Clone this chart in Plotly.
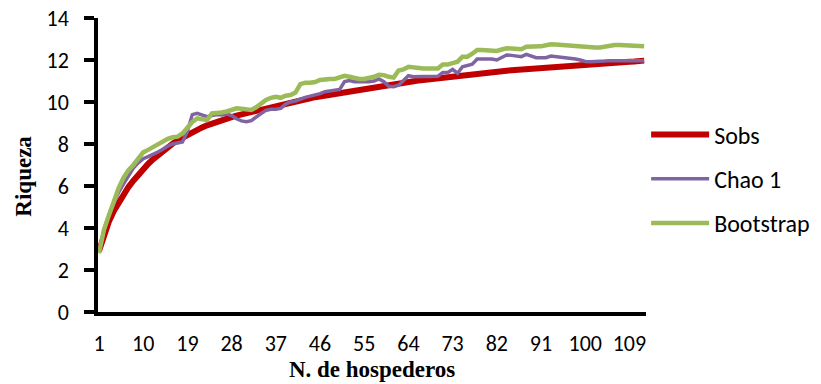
import plotly.graph_objects as go

hospederos = list(range(1, 113))

sobs = [2.9, 3.7, 4.3, 4.8, 5.2, 5.6, 5.95, 6.25, 6.55, 6.8,
        7.05, 7.27, 7.48, 7.67, 7.85, 8.02, 8.17, 8.31, 8.44, 8.56,
        8.68, 8.79, 8.89, 8.98, 9.06, 9.14, 9.21, 9.28, 9.35, 9.41,
        9.47, 9.53, 9.59, 9.65, 9.71, 9.77, 9.83, 9.88, 9.93, 9.98,
        10.03, 10.08, 10.13, 10.18, 10.23, 10.27, 10.32, 10.36, 10.41, 10.45,
        10.49, 10.53, 10.57, 10.61, 10.65, 10.69, 10.73, 10.76, 10.8, 10.83,
        10.87, 10.9, 10.93, 10.96, 10.99, 11.02, 11.05, 11.08, 11.11, 11.14,
        11.17, 11.2, 11.22, 11.25, 11.28, 11.3, 11.33, 11.35, 11.38, 11.4,
        11.42, 11.45, 11.47, 11.49, 11.51, 11.53, 11.55, 11.57, 11.59, 11.61,
        11.63, 11.65, 11.67, 11.68, 11.7, 11.72, 11.74, 11.75, 11.77, 11.78,
        11.8, 11.81, 11.83, 11.84, 11.86, 11.87, 11.89, 11.9, 11.92, 11.93,
        11.95, 11.97]

chao1 = [2.85, 3.9, 4.6, 5.2, 5.7, 6.1, 6.5, 6.85, 7.1, 7.3,
         7.4, 7.5, 7.62, 7.75, 7.9, 8.0, 8.05, 8.1, 8.6, 9.4,
         9.46, 9.4, 9.3, 9.35, 9.4, 9.38, 9.43, 9.35, 9.2, 9.1,
         9.06, 9.11, 9.3, 9.45, 9.6, 9.65, 9.65, 9.7, 9.9, 10.0,
         10.05, 10.15, 10.22, 10.28, 10.33, 10.4, 10.49, 10.52, 10.55, 10.6,
         10.97, 11.02, 10.97, 10.95, 10.97, 10.97, 11.0, 11.1, 10.97, 10.75,
         10.73, 10.8, 11.05, 11.25, 11.2, 11.22, 11.21, 11.21, 11.22, 11.22,
         11.41, 11.41, 11.55, 11.37, 11.68, 11.76, 11.8, 12.05, 12.05, 12.05,
         12.05, 12.0, 12.1, 12.24, 12.22, 12.19, 12.16, 12.27, 12.2, 12.11,
         12.11, 12.11, 12.19, 12.17, 12.13, 12.12, 12.1, 12.05, 12.0, 11.93,
         11.92, 11.92, 11.92, 11.95, 11.97, 11.97, 11.97, 11.97, 11.97, 11.97,
         11.97, 11.97]

bootstrap = [2.8, 3.9, 4.6, 5.3, 5.9, 6.4, 6.75, 7.0, 7.3, 7.6,
             7.72, 7.85, 8.0, 8.11, 8.25, 8.32, 8.35, 8.5, 8.8, 9.05,
             9.22, 9.16, 9.14, 9.46, 9.46, 9.5, 9.55, 9.6, 9.7, 9.68,
             9.64, 9.62, 9.75, 9.95, 10.1, 10.2, 10.25, 10.2, 10.3, 10.33,
             10.45, 10.85, 10.92, 10.92, 10.95, 11.05, 11.1, 11.1, 11.1, 11.15,
             11.25, 11.2, 11.13, 11.1, 11.1, 11.13, 11.2, 11.3, 11.28, 11.2,
             11.16, 11.5, 11.55, 11.68, 11.65, 11.6, 11.6, 11.6, 11.6, 11.6,
             11.79, 11.79, 11.85, 11.92, 12.16, 12.16, 12.3, 12.48, 12.48, 12.48,
             12.46, 12.43, 12.5, 12.56, 12.55, 12.52, 12.51, 12.63, 12.63, 12.63,
             12.65, 12.7, 12.75, 12.74, 12.72, 12.71, 12.7, 12.68, 12.65, 12.6,
             12.6, 12.6, 12.6, 12.65, 12.71, 12.71, 12.71, 12.71, 12.71, 12.68,
             12.67, 12.66]

x_ticks = [1, 10, 19, 28, 37, 46, 55, 64, 73, 82, 91, 100, 109]
y_ticks = [0, 2, 4, 6, 8, 10, 12, 14]

sans = "Carlito, Calibri, 'Liberation Sans Narrow', Lato, sans-serif"
serif = "'Liberation Serif', 'Times New Roman', serif"

fig = go.Figure()
series = [("Sobs", sobs, "#C00000", 6),
          ("Chao 1", chao1, "#8064A2", 3.5),
          ("Bootstrap", bootstrap, "#9BBB59", 4.5)]
for name, vals, color, w in series:
    fig.add_trace(go.Scatter(x=hospederos, y=vals, mode="lines", name=name,
                             legendgroup=name,
                             line=dict(color=color, width=w)))

fig.update_layout(
    width=821, height=384,
    margin=dict(l=98, r=170, t=18, b=72),
    paper_bgcolor="white", plot_bgcolor="white",
    font=dict(family=sans, size=22, color="black"),
    legend=dict(xref="container", yref="container",
                x=0.787, y=1 - 179 / 384, xanchor="left", yanchor="middle",
                font=dict(family=sans, size=24, color="black"),
                itemwidth=58, tracegroupgap=10, bgcolor="rgba(0,0,0,0)"),
    xaxis=dict(range=[0.8, 112.4], tickmode="array", tickvals=x_ticks,
               ticktext=[str(v) for v in x_ticks], automargin=False,
               showline=True, linecolor="black", linewidth=3.5,
               showgrid=False, zeroline=False, ticks="",
               ticklabelstandoff=9,
               tickfont=dict(family=sans, size=22),
               title=dict(text="N. de hospederos", standoff=4,
                          font=dict(family=serif, size=23, color="black", weight="bold"))),
    yaxis=dict(range=[0, 14], tickmode="array", tickvals=y_ticks, automargin=False,
               showline=True, linecolor="black", linewidth=3.5,
               showgrid=False, zeroline=False, ticks="outside", ticklen=10,
               tickwidth=3.5, tickcolor="black", ticklabelstandoff=11,
               tickfont=dict(family=sans, size=22)),
    annotations=[dict(text="Riqueza", textangle=-90, showarrow=False,
                      xref="paper", yref="paper",
                      x=(23 - 98) / 553, y=(312 - 176) / 294,
                      xanchor="center", yanchor="middle",
                      font=dict(family=serif, size=23, color="black", weight="bold"))],
)

fig.write_html("out.html")
